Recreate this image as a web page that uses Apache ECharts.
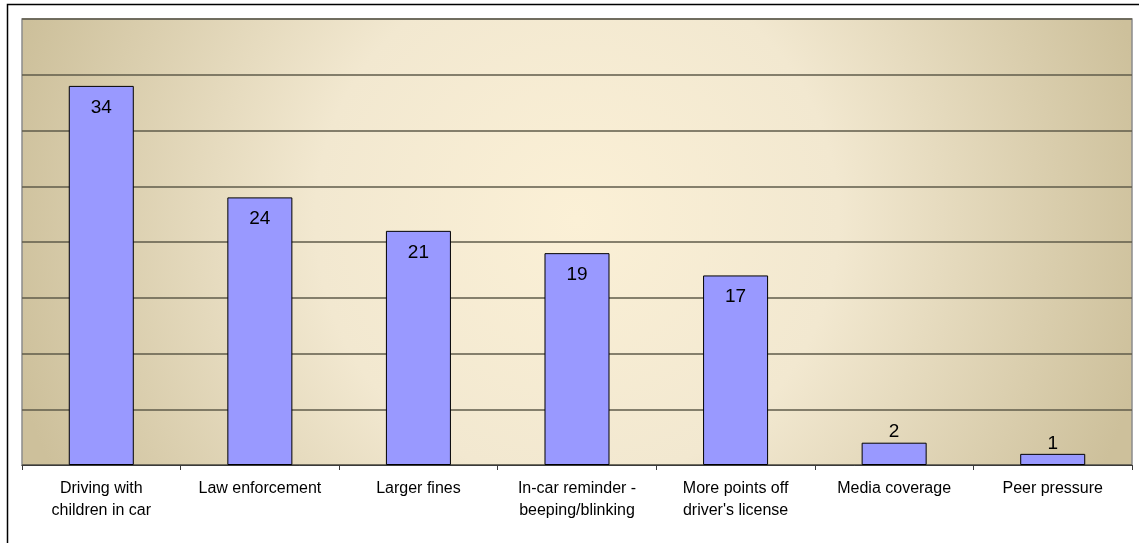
<!DOCTYPE html>
<html>
<head>
<meta charset="utf-8">
<title>Chart</title>
<script src="https://cdn.jsdelivr.net/npm/echarts@6/dist/echarts.min.js"></script>
<style>
  html, body { margin: 0; padding: 0; background: #fff; }
  #chart { width: 1139px; height: 543px; }
</style>
</head>
<body>
<div id="chart"></div>
<script>
// categories and values
const categories = [
    'Driving with\nchildren in car',
    'Law enforcement',
    'Larger fines',
    'In-car reminder -\nbeeping/blinking',
    'More points off\ndriver\'s license',
    'Media coverage',
    'Peer pressure'
];
const values = [34, 24, 21, 19, 17, 2, 1];

const chart = echarts.init(document.getElementById('chart'));

// small bars get their label above the bar, others inside at the top
const barData = values.map(v => ({
    value: v,
    label: v < 5 ? { position: 'top', distance: 1 } : { position: 'insideTop', distance: 12 }
}));

const option = {
    backgroundColor: '#ffffff',
    animation: false,
    graphic: [{
        type: 'rect',
        shape: { x: 7.5, y: 4.5, width: 1200, height: 600 },
        style: { fill: 'none', stroke: '#000', lineWidth: 1.5 },
        z: -1
    }],
    grid: {
        left: 22, right: 7, top: 19, bottom: 78,
        show: true,
        borderColor: '#8c8c8c',
        borderWidth: 1.5,
        backgroundColor: {
            type: 'radial', x: 0.5, y: 0.45, r: 1.3,
            colorStops: [
                { offset: 0, color: '#fbf0d6' },
                { offset: 0.45, color: '#f2e8d0' },
                { offset: 1, color: '#cdc09b' }
            ]
        }
    },
    xAxis: {
        type: 'category',
        data: categories,
        axisLine: { show: true, lineStyle: { color: '#3a3a3a', width: 1 } },
        axisTick: { show: true, length: 5, lineStyle: { color: '#3a3a3a' } },
        axisLabel: {
            color: '#000',
            fontFamily: 'Liberation Sans, Arial, sans-serif',
            fontSize: 16,
            lineHeight: 22,
            margin: 13,
            interval: 0
        }
    },
    yAxis: {
        type: 'value',
        min: 0, max: 40, interval: 5,
        axisLine: { show: false },
        axisTick: { show: false },
        axisLabel: { show: false },
        splitLine: { show: true, lineStyle: { color: '#5f5b4a', width: 1.5 } }
    },
    series: [{
        type: 'bar',
        data: barData,
        barCategoryGap: '59%',
        itemStyle: { color: '#9999ff', borderColor: '#000', borderWidth: 1 },
        label: {
            show: true,
            color: '#000',
            fontFamily: 'Liberation Sans, Arial, sans-serif',
            fontSize: 19
        }
    }]
};

chart.setOption(option);
window.addEventListener('resize', () => chart.resize());
</script>
</body>
</html>
